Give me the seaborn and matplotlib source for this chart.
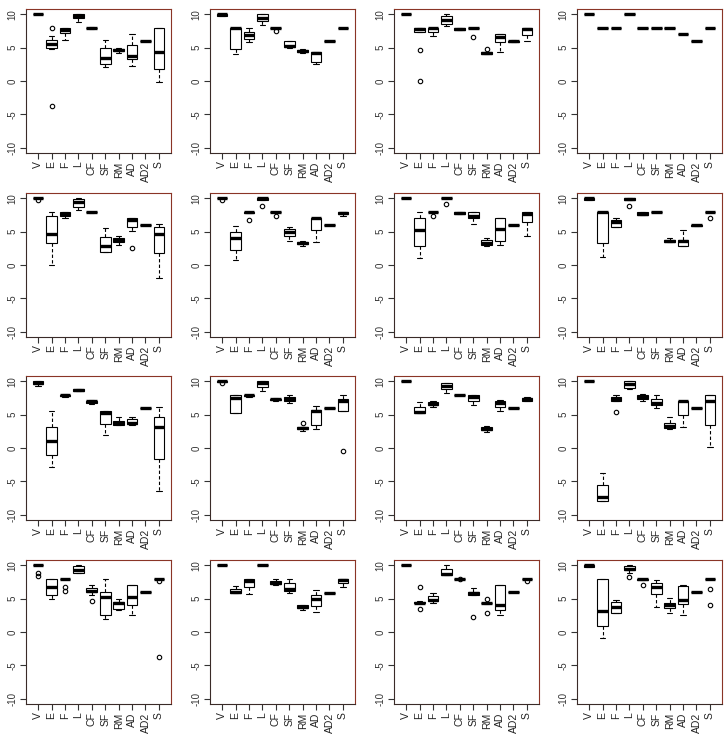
import numpy as np
import pandas as pd
import seaborn as sns
import matplotlib
matplotlib.use("Agg")
import matplotlib.pyplot as plt

sns.set_style("white")
plt.rcParams["font.family"] = ["Liberation Sans", "DejaVu Sans"]

# categories on every panel
cats = ["V", "E", "F", "L", "CF", "SF", "RM", "AD", "AD2", "S"]
yticks = [-10, -5, 0, 5, 10]

# raw values per box (row by row, left to right)
p1 = [[10, 10, 10, 10, 10],
      [-3.7, 4.8, 4.9, 5.2, 5.5, 5.9, 6.1, 6.7, 8.0],
      [6.1, 7.2, 7.6, 8.0, 8.0],
      [8.9, 9.5, 9.8, 10.0, 10.0],
      [7.8, 7.9, 8.0, 8.0, 8.1],
      [2.1, 2.5, 3.4, 4.9, 6.2],
      [4.2, 4.5, 4.7, 4.8, 4.9],
      [2.3, 3.3, 3.8, 5.4, 7.0],
      [6, 6, 6, 6, 6],
      [-0.1, 1.85, 4.3, 8.0, 8.0]]
p2 = [[9.7, 9.8, 10, 10, 10],
      [4.0, 4.8, 8.0, 8.0, 8.0],
      [5.8, 6.3, 6.9, 7.4, 8.0],
      [8.4, 9.0, 9.5, 10.0, 10.0],
      [7.5, 7.9, 8.0, 8.0, 8.0],
      [5.0, 5.1, 5.3, 6.0, 6.0],
      [4.2, 4.3, 4.5, 4.7, 4.8],
      [2.6, 2.8, 4.2, 4.3, 4.4],
      [6, 6, 6, 6, 6],
      [8, 8, 8, 8, 8]]
p3 = [[10, 10, 10, 10, 10],
      [0.0, 4.7, 7.4, 7.6, 7.8, 8.0, 8.0, 8.0, 8.0],
      [6.8, 7.3, 7.9, 8.0, 8.0],
      [8.2, 8.6, 9.1, 9.8, 10.0],
      [7.6, 7.7, 7.8, 7.9, 8.0],
      [6.6, 7.9, 8.0, 8.0, 8.0],
      [4.0, 4.1, 4.2, 4.3, 4.8],
      [4.4, 5.9, 6.6, 7.0, 7.0],
      [5.9, 5.9, 6.0, 6.0, 6.1],
      [6.0, 6.9, 7.8, 8.0, 8.0]]
p4 = [[10, 10, 10, 10, 10],
      [8, 8, 8, 8, 8],
      [8, 8, 8, 8, 8],
      [10, 10, 10, 10, 10],
      [8, 8, 8, 8, 8],
      [8, 8, 8, 8, 8],
      [8, 8, 8, 8, 8],
      [7, 7, 7, 7, 7],
      [6, 6, 6, 6, 6],
      [8, 8, 8, 8, 8]]
p5 = [[9.7, 10, 10, 10, 10],
      [0.0, 3.3, 4.6, 7.3, 8.0],
      [7.1, 7.4, 7.7, 8.0, 8.0],
      [8.3, 8.7, 9.4, 9.9, 10.0],
      [7.8, 7.9, 8.0, 8.0, 8.0],
      [1.9, 1.9, 2.9, 4.2, 5.5],
      [3.0, 3.4, 3.7, 4.0, 4.3],
      [2.5, 5.1, 5.7, 6.2, 6.7, 6.9, 7.0, 7.0, 7.0],
      [6, 6, 6, 6, 6],
      [-2.0, 1.8, 4.7, 5.7, 6.1]]
p6 = [[9.7, 10, 10, 10, 10],
      [0.7, 2.3, 4.1, 4.9, 5.8],
      [6.7, 7.8, 7.9, 8.0, 8.0],
      [8.9, 9.8, 10, 10, 10],
      [7.4, 7.9, 8.0, 8.0, 8.0],
      [3.6, 4.3, 4.9, 5.4, 5.7],
      [2.8, 3.1, 3.3, 3.5, 3.6],
      [3.4, 5.2, 7.0, 7.0, 7.1],
      [6, 6, 6, 6, 6],
      [7.4, 7.6, 7.8, 8.0, 8.0]]
p7 = [[10, 10, 10, 10, 10],
      [1.1, 2.8, 5.2, 7.1, 7.9],
      [7.4, 7.9, 8.0, 8.0, 8.0],
      [9.2, 10, 10, 10, 10],
      [7.6, 7.6, 7.8, 8.0, 8.0],
      [6.2, 7.0, 7.3, 8.0, 8.0],
      [2.9, 3.0, 3.3, 3.8, 4.0],
      [3.0, 3.6, 5.4, 7.0, 7.0],
      [6, 6, 6, 6, 6],
      [4.3, 6.5, 7.7, 8.0, 8.0]]
p8 = [[9.7, 9.8, 10, 10, 10],
      [1.2, 3.3, 8.0, 8.0, 8.0],
      [5.7, 5.7, 6.5, 6.7, 7.0],
      [8.8, 9.7, 9.9, 10.0, 10.0],
      [7.5, 7.5, 7.7, 7.9, 8.0],
      [8, 8, 8, 8, 8],
      [3.4, 3.5, 3.6, 3.8, 4.0],
      [2.8, 2.8, 3.6, 3.8, 5.2],
      [5.8, 5.9, 6.0, 6.0, 6.0],
      [7.1, 7.9, 8.0, 8.0, 8.0]]
p9 = [[9.3, 9.6, 9.8, 10.0, 10.0],
      [-2.9, -1.0, 1.0, 3.2, 5.6],
      [7.7, 7.8, 7.9, 8.0, 8.1],
      [8.5, 8.6, 8.7, 8.8, 8.8],
      [6.6, 6.8, 7.0, 7.1, 7.2],
      [2.0, 3.6, 5.3, 5.5, 5.6],
      [3.4, 3.5, 3.8, 4.1, 4.6],
      [3.5, 3.6, 3.8, 4.3, 4.7],
      [6, 6, 6, 6, 6],
      [-6.4, -1.7, 3.1, 4.7, 6.2]]
p10 = [[9.7, 9.9, 10, 10, 10],
       [5.2, 5.2, 7.5, 7.9, 8.0],
       [7.7, 7.8, 7.9, 8.0, 8.0],
       [8.5, 9.2, 9.8, 10.0, 10.0],
       [7.1, 7.2, 7.3, 7.4, 7.5],
       [6.8, 7.0, 7.3, 7.7, 8.0],
       [2.6, 2.7, 2.8, 2.9, 2.95, 3.0, 3.1, 3.1, 3.7],
       [2.8, 3.4, 5.5, 5.7, 6.3],
       [6, 6, 6, 6, 6],
       [-0.4, 5.6, 5.6, 6.5, 7.1, 7.2, 7.3, 7.6, 8.0]]
p11 = [[10, 10, 10, 10, 10],
       [5.2, 5.2, 5.4, 6.2, 6.9],
       [6.2, 6.4, 6.6, 6.9, 7.1],
       [8.3, 8.8, 9.3, 9.7, 9.8],
       [8, 8, 8, 8, 8],
       [6.5, 7.1, 7.6, 8.0, 8.0],
       [2.4, 2.7, 2.9, 3.2, 3.3],
       [5.6, 6.2, 6.8, 7.1, 7.2],
       [6, 6, 6, 6, 6],
       [7.0, 7.1, 7.3, 7.5, 7.6]]
p12 = [[10, 10, 10, 10, 10],
       [-8.0, -7.9, -7.4, -5.6, -3.7],
       [5.4, 7.0, 7.0, 7.2, 7.3, 7.5, 7.7, 7.8, 7.9],
       [8.9, 9.0, 9.6, 10.0, 10.0],
       [7.1, 7.3, 7.7, 8.0, 8.1],
       [6.0, 6.4, 6.8, 7.3, 8.0],
       [2.9, 3.0, 3.3, 3.7, 4.6],
       [3.2, 4.9, 7.0, 7.1, 7.1],
       [6, 6, 6, 6, 6],
       [0.2, 3.4, 7.0, 7.9, 8.0]]
p13 = [[8.4, 8.9, 10, 10, 10, 10, 10, 10, 10],
       [5.0, 5.6, 6.7, 8.0, 8.0],
       [6.2, 6.8, 8, 8, 8, 8, 8, 8, 8],
       [8.8, 8.9, 9.3, 9.9, 10.0],
       [4.6, 5.5, 6.0, 6.1, 6.2, 6.4, 6.6, 6.8, 7.1],
       [1.9, 2.6, 5.3, 6.0, 8.0],
       [3.3, 3.5, 4.3, 4.5, 5.0],
       [2.6, 4.1, 5.2, 7.0, 7.0],
       [6, 6, 6, 6, 6],
       [-3.8, 7.7, 7.9, 8, 8, 8, 8, 8, 8]]
p14 = [[10, 10, 10, 10, 10],
       [5.8, 5.9, 6.0, 6.4, 6.9],
       [5.7, 6.7, 7.6, 7.9, 8.0],
       [10, 10, 10, 10, 10],
       [7.1, 7.2, 7.4, 7.7, 8.0],
       [5.9, 6.2, 6.5, 7.3, 8.0],
       [3.3, 3.6, 3.8, 4.0, 4.1],
       [3.0, 3.9, 4.9, 5.6, 6.3],
       [5.8, 5.8, 5.8, 5.8, 5.8],
       [6.8, 7.3, 7.8, 8.0, 8.0]]
p15 = [[10, 10, 10, 10, 10],
       [3.4, 4.3, 4.3, 4.4, 4.4, 4.5, 4.5, 4.6, 6.7],
       [4.4, 4.6, 4.8, 5.4, 5.9],
       [8.6, 8.6, 8.7, 9.5, 10.0],
       [7.9, 8, 8, 8, 8],
       [2.3, 5.5, 5.6, 5.7, 5.8, 5.9, 6.0, 6.3, 6.6],
       [2.8, 4.2, 4.3, 4.3, 4.3, 4.3, 4.4, 4.4, 5.0],
       [2.5, 3.3, 4.0, 7.0, 7.0],
       [6, 6, 6, 6, 6],
       [7.6, 8, 8, 8, 8]]
p16 = [[9.7, 9.8, 10, 10, 10],
       [-0.9, 0.9, 3.2, 8.0, 8.0],
       [2.8, 2.8, 3.7, 4.5, 4.8],
       [8.2, 8.9, 9.3, 9.4, 9.5, 9.7, 9.9, 10, 10],
       [7.1, 7.8, 8.0, 8.0, 8.0],
       [3.8, 5.7, 6.8, 7.4, 7.8],
       [2.8, 3.6, 4.0, 4.4, 5.1],
       [2.6, 4.2, 4.8, 6.9, 7.0],
       [6, 6, 6, 6, 6],
       [4.1, 6.4, 8, 8, 8, 8, 8, 8, 8]]

panels = [p1, p2, p3, p4, p5, p6, p7, p8,
          p9, p10, p11, p12, p13, p14, p15, p16]

W, H = 727, 734
fig = plt.figure(figsize=(W / 100, H / 100), dpi=100)

lefts = [26, 210, 394, 577]
tops = [9, 193, 376, 560]
aw, ah = 145, 144

frame_dark = "#3a2b28"
frame_red = "#8a3526"

for i, boxes in enumerate(panels):
    r, c = divmod(i, 4)
    ax = fig.add_axes([lefts[c] / W, 1 - (tops[r] + ah) / H, aw / W, ah / H])

    rows = []
    for cat, vals in zip(cats, boxes):
        for v in vals:
            rows.append((cat, v))
    df = pd.DataFrame(rows, columns=["cat", "val"])

    sns.boxplot(data=df, x="cat", y="val", order=cats, ax=ax,
                color="white", linecolor="black", linewidth=0.8, width=0.8,
                whis=1.5, fliersize=3.2,
                flierprops=dict(marker="o", markerfacecolor="none",
                                markeredgecolor="black", markeredgewidth=0.8),
                whiskerprops=dict(linestyle=(0, (3, 2))),
                medianprops=dict(linewidth=2.4, color="black"))

    ax.set_xlim(-0.9, 9.9)
    ax.set_ylim(-10.8, 10.8)
    ax.set_xlabel("")
    ax.set_ylabel("")
    ax.set_yticks(yticks)
    ax.set_yticklabels([str(t) for t in yticks], rotation=90, va="center",
                       fontsize=7, color="#333333")
    ax.set_xticks(range(len(cats)))
    ax.set_xticklabels(cats, rotation=90, fontsize=7.5, color="#222222")
    ax.tick_params(axis="both", direction="out", length=4, width=0.8,
                   color="#333333", pad=2, left=True, bottom=True)
    for side in ["left", "bottom"]:
        ax.spines[side].set_color(frame_dark)
        ax.spines[side].set_linewidth(0.8)
    for side in ["top", "right"]:
        ax.spines[side].set_color(frame_red)
        ax.spines[side].set_linewidth(0.8)
    ax.grid(False)

fig.savefig("out.png", dpi=100)
